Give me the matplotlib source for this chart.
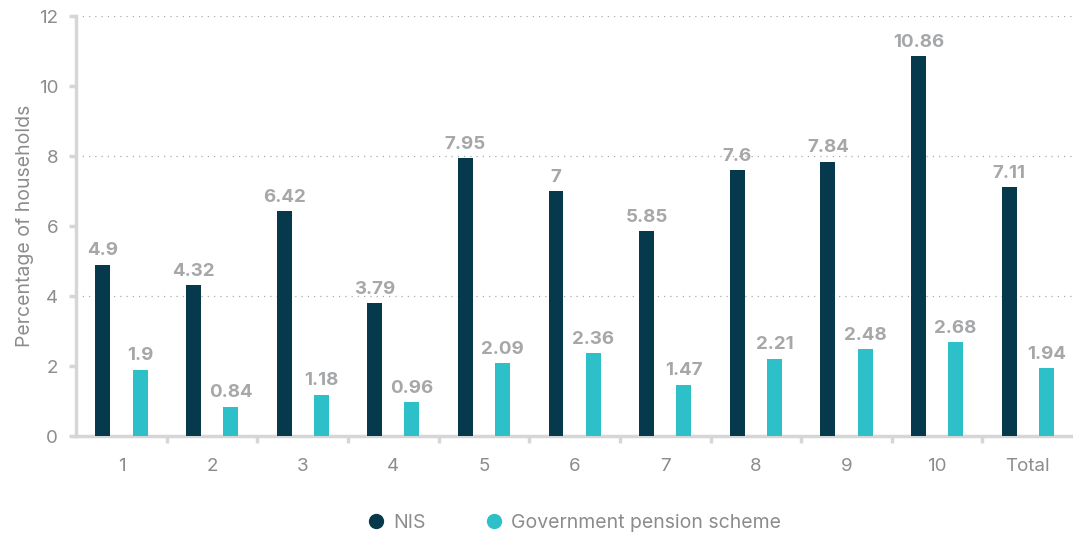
import numpy as np
import matplotlib
matplotlib.use("Agg")
import matplotlib.pyplot as plt
from matplotlib.lines import Line2D

plt.rcParams['font.family'] = ['Inter', 'DejaVu Sans']

categories = ['1', '2', '3', '4', '5', '6', '7', '8', '9', '10', 'Total']
nis = [4.9, 4.32, 6.42, 3.79, 7.95, 7, 5.85, 7.6, 7.84, 10.86, 7.11]
gov_pension = [1.9, 0.84, 1.18, 0.96, 2.09, 2.36, 1.47, 2.21, 2.48, 2.68, 1.94]

NIS_COLOR = '#06394B'
GPS_COLOR = '#2EC0C9'
TEXT_GRAY = '#8C8C8C'
LABEL_GRAY = '#A5A7A9'
AXIS_GRAY = '#D5D6D8'

fig = plt.figure(figsize=(10.73, 5.35), dpi=100)
ax = fig.add_axes([0.071, 0.185, 0.929, 0.785])

x = np.arange(len(categories))
offset = 0.205
width = 0.165
ax.bar(x - offset, nis, width, color=NIS_COLOR, zorder=3)
ax.bar(x + offset, gov_pension, width, color=GPS_COLOR, zorder=3)

def fmt(v):
    return f'{v:g}'

for xi, v in zip(x, nis):
    ax.text(xi - offset, v + 0.15, fmt(v), ha='center', va='bottom',
            fontsize=13.5, fontweight='bold', color=LABEL_GRAY)
for xi, v in zip(x, gov_pension):
    ax.text(xi + offset, v + 0.15, fmt(v), ha='center', va='bottom',
            fontsize=13.5, fontweight='bold', color=LABEL_GRAY)

ax.set_xlim(-0.5, len(categories) - 0.5)
ax.set_ylim(0, 12)
ax.set_yticks(np.arange(0, 13, 2))
for y in (4, 8, 12):
    ax.axhline(y, color='#AAAAAA', linestyle=(0, (1, 4)), linewidth=0.9, zorder=1)

ax.set_xticks(x)
ax.set_xticklabels(categories)
ax.set_xticks(np.arange(0.5, len(categories) - 1, 1), minor=True)
ax.tick_params(axis='x', which='major', length=0, pad=16, labelsize=13.5,
               labelcolor=TEXT_GRAY)
ax.tick_params(axis='x', which='minor', length=5, width=2.5, color=AXIS_GRAY,
               direction='out')
ax.tick_params(axis='y', length=5, width=2.5, color=AXIS_GRAY, pad=8,
               labelsize=13.5, labelcolor=TEXT_GRAY)

for side in ('top', 'right'):
    ax.spines[side].set_visible(False)
for side in ('left', 'bottom'):
    ax.spines[side].set_color(AXIS_GRAY)
    ax.spines[side].set_linewidth(2.5)

ax.set_ylabel('Percentage of households', fontsize=14, color=TEXT_GRAY,
              labelpad=3)

handles = [
    Line2D([], [], marker='o', linestyle='', markersize=10,
           markerfacecolor=NIS_COLOR, markeredgecolor=NIS_COLOR, label='NIS'),
    Line2D([], [], marker='o', linestyle='', markersize=10,
           markerfacecolor=GPS_COLOR, markeredgecolor=GPS_COLOR,
           label='Government pension scheme'),
]
leg = fig.legend(handles=handles, loc='center', bbox_to_anchor=(0.530, 0.022),
                 ncol=2, frameon=False, fontsize=14, handletextpad=-0.1,
                 columnspacing=2.5, labelcolor=TEXT_GRAY)

fig.savefig('out.png', dpi=100)
